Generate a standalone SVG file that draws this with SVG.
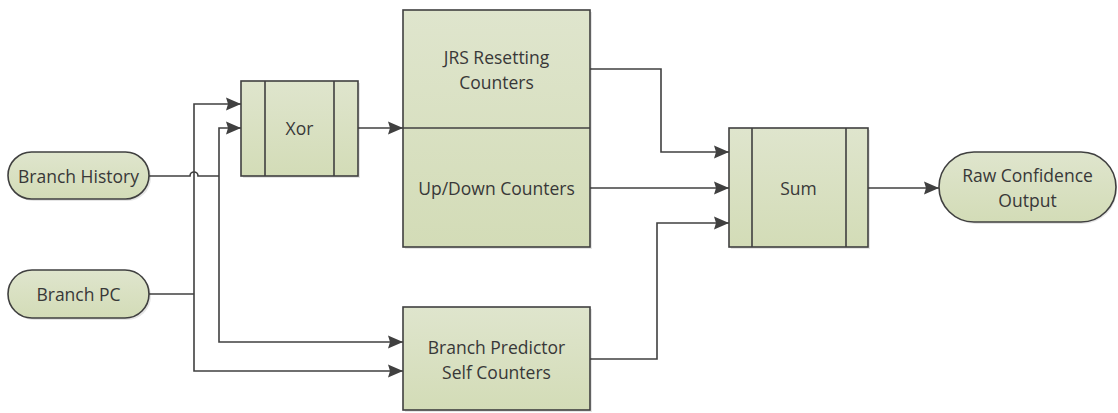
<svg xmlns="http://www.w3.org/2000/svg" width="1118" height="413" viewBox="0 0 1118 413">
<defs>
<linearGradient id="g" x1="0" y1="0" x2="0" y2="1">
<stop offset="0" stop-color="#dfe5cd"/>
<stop offset="1" stop-color="#d3dcb7"/>
</linearGradient>
<marker id="arr" markerUnits="userSpaceOnUse" markerWidth="15" markerHeight="14" viewBox="0 0 15 14" refX="15" refY="7" orient="auto">
<path d="M0,0.5 L15,7 L0,13.5 L2,7 Z" fill="#404040"/>
</marker>
</defs>
<style>
.box{fill:url(#g);stroke:#404040;stroke-width:1.6}
.sh{fill:#000;opacity:0.10}
.ln{fill:none;stroke:#404040;stroke-width:1.6}
.wire{fill:none;stroke:#404040;stroke-width:1.6}
.arrow{marker-end:url(#arr)}
text{font-family:"Open Sans","Liberation Sans",sans-serif;font-size:17.5px;fill:#383838;text-anchor:middle;dominant-baseline:central}
</style>
<rect width="1118" height="413" fill="#ffffff"/>

<g id="connectors">
<path class="wire" d="M149,176 H190 A4,4 0 0 1 198,176 H219"/>
<path class="wire arrow" d="M219,176 V128 H241"/>
<path class="wire arrow" d="M219,176 V342 H403"/>
<path class="wire" d="M149,294 H194"/>
<path class="wire arrow" d="M194,294 V104 H241"/>
<path class="wire arrow" d="M194,294 V371 H403"/>
<path class="wire arrow" d="M358,128 H403"/>
<path class="wire arrow" d="M590,69 H661 V152 H729"/>
<path class="wire arrow" d="M590,188 H729"/>
<path class="wire arrow" d="M590,359 H657 V223 H729"/>
<path class="wire arrow" d="M868,188 H939"/>
</g>

<g id="branch-history">
<rect class="sh" x="10" y="154" width="141" height="47" rx="23.5"/>
<rect class="box" x="8" y="152" width="141" height="47" rx="23.5"/>
<text x="78.5" y="176">Branch History</text>
</g>

<g id="branch-pc">
<rect class="sh" x="10" y="272" width="141" height="48" rx="24"/>
<rect class="box" x="8" y="270" width="141" height="48" rx="24"/>
<text x="78.5" y="294">Branch PC</text>
</g>

<g id="xor">
<rect class="sh" x="243" y="83" width="117" height="95"/>
<rect class="box" x="241" y="81" width="117" height="95"/>
<path class="ln" d="M265,81 V176 M334,81 V176"/>
<text x="299.5" y="128">Xor</text>
</g>

<g id="counters">
<rect class="sh" x="405" y="12" width="187" height="237"/>
<rect class="box" x="403" y="10" width="187" height="237"/>
<path class="ln" d="M403,128 H590"/>
<text x="496.5" y="57">JRS Resetting</text>
<text x="496.5" y="82">Counters</text>
<text x="496.5" y="188">Up/Down Counters</text>
</g>

<g id="branch-predictor">
<rect class="sh" x="405" y="309" width="187" height="103"/>
<rect class="box" x="403" y="307" width="187" height="103"/>
<text x="496.5" y="347">Branch Predictor</text>
<text x="496.5" y="372">Self Counters</text>
</g>

<g id="sum">
<rect class="sh" x="731" y="130" width="139" height="119"/>
<rect class="box" x="729" y="128" width="139" height="119"/>
<path class="ln" d="M752,128 V247 M846,128 V247"/>
<text x="798.5" y="188">Sum</text>
</g>

<g id="raw-output">
<rect class="sh" x="941" y="154" width="176" height="70" rx="35"/>
<rect class="box" x="939" y="152" width="177" height="70" rx="35"/>
<text x="1027.5" y="175">Raw Confidence</text>
<text x="1027.5" y="200">Output</text>
</g>
</svg>
